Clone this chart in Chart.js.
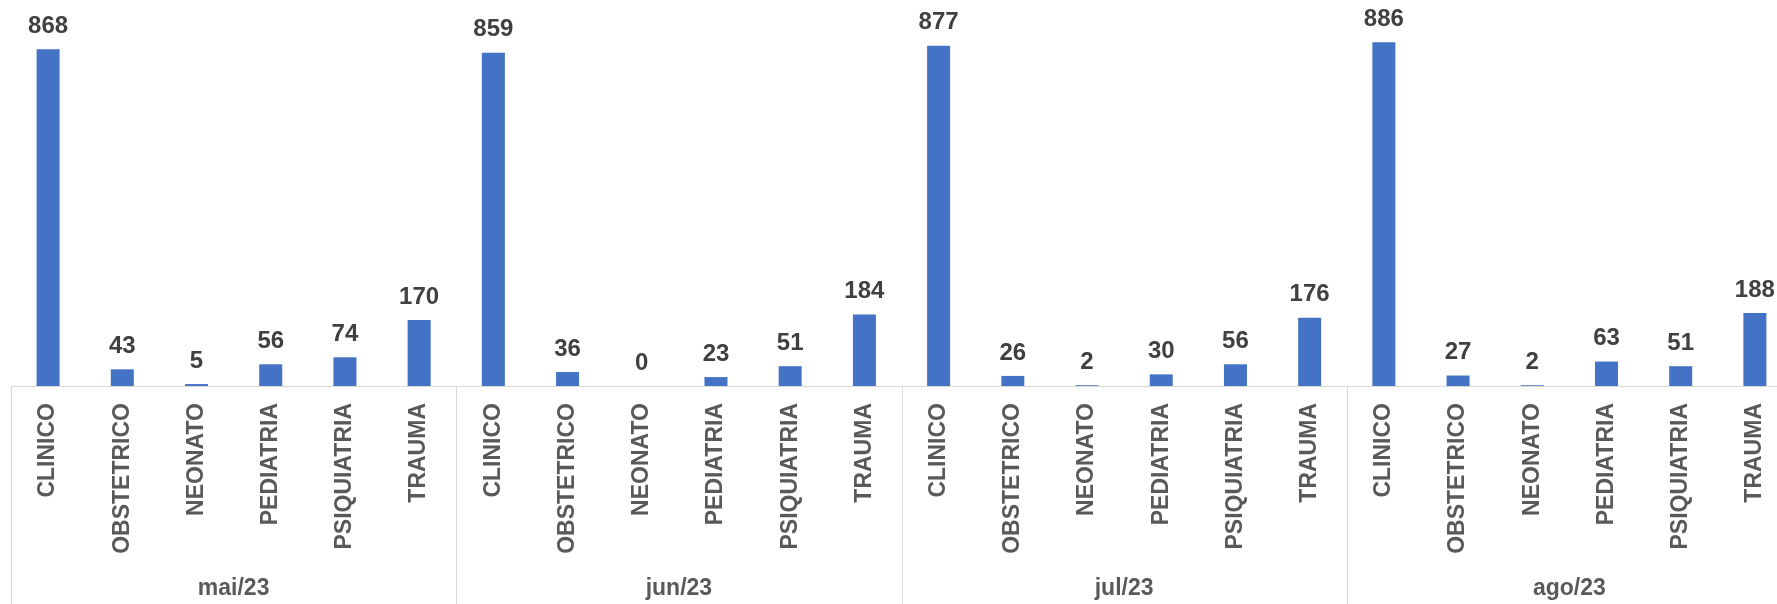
<!DOCTYPE html>
<html>
<head>
<meta charset="utf-8">
<script src="https://cdn.jsdelivr.net/npm/chart.js@4.4.0/dist/chart.umd.min.js"></script>
<style>
  html, body { margin: 0; padding: 0; background: #fff; overflow: hidden; }
  #wrap { width: 1800px; height: 604px; }
</style>
</head>
<body>
<div id="wrap"><canvas id="atendChart"></canvas></div>
<script>
// monthly attendance by specialty
const months = ["mai/23", "jun/23", "jul/23", "ago/23"];
const specialties = ["CLINICO", "OBSTETRICO", "NEONATO", "PEDIATRIA", "PSIQUIATRIA", "TRAUMA"];

const mai23 = [868, 43, 5, 56, 74, 170];
const jun23 = [859, 36, 0, 23, 51, 184];
const jul23 = [877, 26, 2, 30, 56, 176];
const ago23 = [886, 27, 2, 63, 51, 188];

const FONT = "'Liberation Sans', Arial, sans-serif";

const labels = months.flatMap(() => specialties);
const values = [...mai23, ...jun23, ...jul23, ...ago23];

/* value labels, month group labels and separators */
const groupsPlugin = {
  id: "groups",
  afterDatasetsDraw(chart) {
    const { ctx, chartArea } = chart;
    const x = chart.scales.x;
    const bars = chart.getDatasetMeta(0).data;

    ctx.save();
    ctx.font = "bold 24px " + FONT;
    ctx.fillStyle = "#404040";
    ctx.textAlign = "center";
    ctx.textBaseline = "bottom";
    bars.forEach((bar, i) => {
      ctx.fillText(String(values[i]), bar.x, bar.y - 11);
    });

    const n = specialties.length;
    const step = (x.right - x.left) / labels.length;
    ctx.strokeStyle = "#d9d9d9";
    ctx.lineWidth = 1;
    ctx.font = "bold 23px " + FONT;
    ctx.fillStyle = "#595959";
    ctx.textBaseline = "middle";
    months.forEach((m, g) => {
      const left = x.left + g * n * step;
      const lx = Math.round(left) + 0.5;
      ctx.beginPath();
      ctx.moveTo(lx, chartArea.bottom);
      ctx.lineTo(lx, chart.height);
      ctx.stroke();
      ctx.fillText(m, left + n * step / 2, 589);
    });
    ctx.restore();
  }
};

new Chart(document.getElementById("atendChart"), {
  type: "bar",
  data: {
    labels: labels,
    datasets: [{
      data: values,
      backgroundColor: "#4472c4",
      categoryPercentage: 1,
      barPercentage: 0.31
    }]
  },
  options: {
    responsive: true,
    maintainAspectRatio: false,
    animation: false,
    layout: { padding: { left: 11, right: 8, top: 0, bottom: 0 } },
    plugins: {
      legend: { display: false },
      tooltip: { enabled: false }
    },
    scales: {
      x: {
        grid: { display: false, drawTicks: false },
        border: { display: true, color: "#d9d9d9", width: 1 },
        ticks: {
          autoSkip: false,
          minRotation: 90,
          maxRotation: 90,
          padding: 17,
          color: "#595959",
          font: { family: FONT, size: 23, weight: "bold" }
        },
        afterFit: s => { s.height = 218; }
      },
      y: {
        display: false,
        min: 0,
        max: 995
      }
    }
  },
  plugins: [groupsPlugin]
});
</script>
</body>
</html>
